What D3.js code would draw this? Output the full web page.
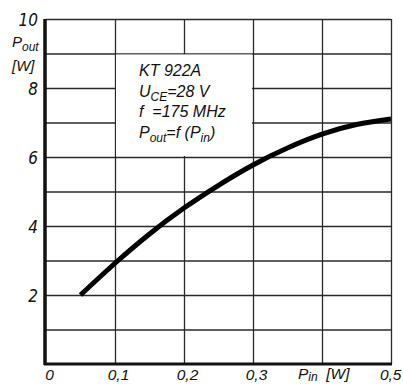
<!DOCTYPE html>
<meta charset="utf-8">
<style>
body { margin: 0; background: #fff; }
text { font-family: "Liberation Sans", Arial, sans-serif; font-style: italic; fill: #111; }
.narrow { font-family: "Liberation Sans Narrow", "DejaVu Sans Condensed", "Liberation Sans", sans-serif; }
.grid line { stroke: #2a2a2a; stroke-width: 1.3; }
.grid path { display: none; }
.lab path, .lab line { display: none; }
</style>
<svg width="403" height="385"></svg>
<script src="https://cdn.jsdelivr.net/npm/d3@7"></script>
<script>

// curve P_out = f(P_in)
var pin  = [0.05, 0.1, 0.15, 0.2, 0.25, 0.3, 0.35, 0.4, 0.45, 0.5];
var pout = [2.0, 2.92, 3.77, 4.52, 5.18, 5.77, 6.26, 6.66, 6.94, 7.1];

var xGrid = [0.1, 0.2, 0.3, 0.4, 0.5];
var yGrid = [1, 2, 3, 4, 5, 6, 7, 8, 9, 10];
var xTicks = [0, 0.1, 0.2, 0.3, 0.5];
var xTickLabels = ["0", "0,1", "0,2", "0,3", "0,5"];
var yTicks = [2, 4, 6, 8, 10];
var infoLines = ["KT 922A", "U|CE|=28 V", "f\u00a0\u00a0=175 MHz", "P|out|=f (P|in|)"];

var svg = d3.select("svg");

var x = d3.scaleLinear().domain([0, 0.5]).range([46, 391]),
    y = d3.scaleLinear().domain([0, 10]).range([364, 19]);

// grid
svg.append("g").attr("class", "grid")
    .attr("transform", "translate(0," + y(0) + ")")
    .call(d3.axisBottom(x).tickValues(xGrid).tickSize(-(y(0) - y(10))).tickFormat(""));

svg.append("g").attr("class", "grid")
    .attr("transform", "translate(" + x(0) + ",0)")
    .call(d3.axisLeft(y).tickValues(yGrid).tickSize(-(x(0.5) - x(0))).tickFormat(""));

// white field behind the legend text
svg.append("rect")
    .attr("x", x(0.1) + 1)
    .attr("y", y(9) + 1)
    .attr("width", x(0.3) - x(0.1) - 2)
    .attr("height", y(6) - y(9) - 2)
    .attr("fill", "#fff");

// heavy axes
svg.append("line")
    .attr("x1", x(0) - 1).attr("x2", x(0) - 1)
    .attr("y1", y(10)).attr("y2", y(0) + 1)
    .attr("stroke", "#111").attr("stroke-width", 3.5);
svg.append("line")
    .attr("x1", x(0) - 2).attr("x2", x(0.5) + 1)
    .attr("y1", y(0)).attr("y2", y(0))
    .attr("stroke", "#111").attr("stroke-width", 3);

// y tick labels
svg.append("g").attr("class", "lab")
    .attr("transform", "translate(" + x(0) + ",0)")
    .call(d3.axisLeft(y).tickValues(yTicks).tickSize(0).tickPadding(8))
    .call(function(g) { g.select(".domain").remove(); })
    .selectAll("text")
      .attr("class", "narrow")
      .attr("font-size", 17)
      .attr("dy", "0.4em")
      .attr("fill", "#111");

// x tick labels
svg.append("g").attr("class", "lab")
    .attr("transform", "translate(3," + y(0) + ")")
    .call(d3.axisBottom(x).tickValues(xTicks).tickSize(0).tickPadding(0)
      .tickFormat(function(d, i) { return xTickLabels[i]; }))
    .call(function(g) { g.select(".domain").remove(); })
    .selectAll("text")
      .attr("font-size", 15.5)
      .attr("y", 16)
      .attr("dy", 0)
      .attr("fill", "#111")
      .filter(function(d) { return d === 0.5; })
      .attr("text-anchor", "end")
      .attr("x", 7);

// axis titles
var yt = svg.append("text").attr("x", 12).attr("y", 47).attr("font-size", 15);
yt.append("tspan").text("P");
yt.append("tspan").attr("font-size", 12).attr("dy", 4).text("out");
svg.append("text").attr("x", 12).attr("y", 71).attr("font-size", 15).text("[W]");

var xt = svg.append("text").attr("x", 298).attr("y", y(0) + 15).attr("font-size", 15.5);
xt.append("tspan").text("P");
xt.append("tspan").attr("font-size", 12).attr("dy", 2).text("in");
xt.append("tspan").attr("dy", -2).text("\u00a0\u00a0[W]");

// info text
infoLines.forEach(function(s, i) {
  var t = svg.append("text")
      .attr("x", 139)
      .attr("y", 76 + i * 20.5)
      .attr("font-size", 16);
  s.split("|").forEach(function(part, j) {
    if (!part) return;
    var ts = t.append("tspan").text(part);
    if (j % 2 === 1) ts.attr("font-size", 12).attr("dy", 4);
    else if (j > 0) ts.attr("dy", -4);
  });
});

// curve
var line = d3.line()
    .x(function(d, i) { return x(pin[i]); })
    .y(function(d) { return y(d); })
    .curve(d3.curveNatural);

svg.append("path")
    .datum(pout)
    .attr("d", line)
    .attr("fill", "none")
    .attr("stroke", "#000")
    .attr("stroke-width", 5);

</script>
